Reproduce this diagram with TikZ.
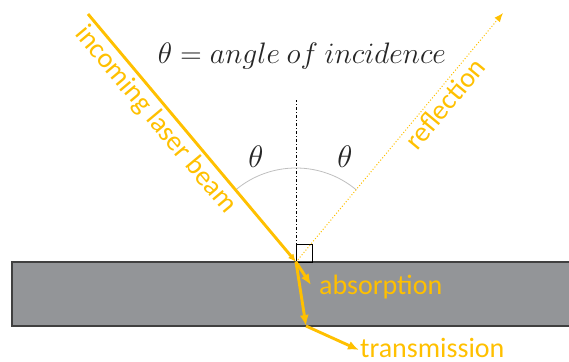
\documentclass[tikz,border=0pt]{standalone}
\usepackage{fontspec}
\setmainfont{Carlito}
\usetikzlibrary{arrows.meta,positioning}
\definecolor{laser}{HTML}{FFC000}
\definecolor{slabfill}{HTML}{939598}
\definecolor{slabedge}{HTML}{404040}
\definecolor{inktext}{HTML}{262626}
\newcommand{\bigmath}[2]{\scalebox{#1}{$#2$}}

\begin{document}
\begin{tikzpicture}[x=1pt, y=1pt, >={Latex[length=11pt,width=9pt]},
    beam/.style={laser, line width=2.9pt},
    lbl/.style={text=laser, font=\fontsize{28}{32}\selectfont, inner sep=1pt},
    mathlbl/.style={text=inktext, font=\fontsize{24.88}{30}\selectfont}]
    \clip (0,0) rectangle (569,361);

    % Punti
    \coordinate (hit) at (296,99);
    \coordinate (src) at (88,347);
    \coordinate (refl) at (503,348);
    \coordinate (ntop) at (296,261);
    \coordinate (abs) at (311,76);
    \coordinate (bend) at (306,35);
    \coordinate (trans) at (359,11);

    % Materiale
    \draw[slabedge, fill=slabfill, line width=1.5pt] (12,35) rectangle (600,99);

    % Normale e angolo retto
    \draw[black, line width=1pt, dash dot] (hit) -- (ntop);
    \draw[black, line width=0.8pt] (hit) rectangle ++(16,18);

    % Angoli
    \draw[gray!50, line width=0.8pt] (hit) ++(50:94) arc[start angle=50, end angle=130, radius=94pt];
    \node[mathlbl] (thl) at (256,204) {\bigmath{1.25}{\theta}};
    \node[mathlbl] (thr) at (345,204) {\bigmath{1.25}{\theta}};
    \node[mathlbl] (title) at (302,305) {\bigmath{1.19}{\theta = angle\ of\ incidence}};

    % Raggio incidente e riflesso
    \draw[beam, -{Latex[length=8pt,width=7pt]}] (src) -- (hit)
        node[pos=0.385, sloped, below, lbl, inner sep=3pt] (inlbl) {incoming laser beam};
    \draw[laser, line width=1pt, dotted, -{Latex[length=9pt,width=7pt]}] (hit) -- (refl)
        node[pos=0.67, sloped, below, lbl, inner sep=3pt] (refllbl) {reflection};

    % Assorbimento e trasmissione
    \draw[beam, ->] (hit) -- (abs);
    \node[lbl, anchor=west] (abslbl) at (318,74) {absorption};
    \draw[beam, ->] (hit) -- (bend);
    \draw[beam, ->] (bend) -- (trans);
    \node[lbl, anchor=west] (translbl) at (359,13) {transmission};
\end{tikzpicture}
\end{document}
